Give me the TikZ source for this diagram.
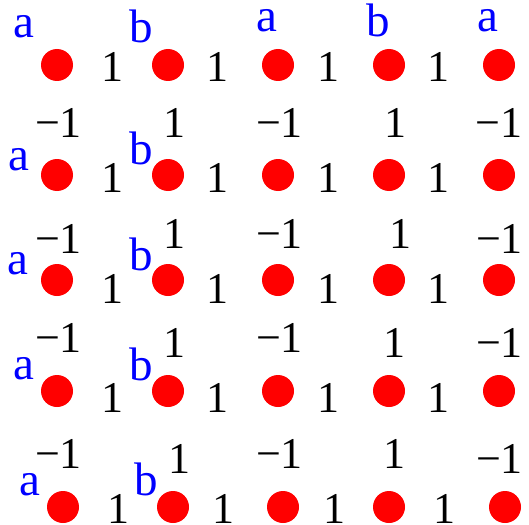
\documentclass[tikz,border=0pt]{standalone}
\usepackage{fontspec}
\setmainfont{Liberation Serif}
\tikzset{
  dotnode/.style={circle, fill=red, draw=none, minimum size=32pt, inner sep=0pt},
  num/.style={font=\fontsize{44}{50}\selectfont, inner sep=0pt, anchor=base, text=black},
  lbl/.style={font=\fontsize{47}{52}\selectfont, inner sep=0pt, anchor=base, text=blue}
}
\begin{document}
\begin{tikzpicture}[x=1pt,y=-1pt]
\useasboundingbox (0,0) rectangle (529,524);
\clip (0,0) rectangle (529,524);
% dots
\node[dotnode] (d11) at (57,65) {};
\node[dotnode] (d12) at (168,65) {};
\node[dotnode] (d13) at (278,65) {};
\node[dotnode] (d14) at (389,65) {};
\node[dotnode] (d15) at (499,65) {};
\node[dotnode] (d21) at (57,175) {};
\node[dotnode] (d22) at (168,175) {};
\node[dotnode] (d23) at (278,175) {};
\node[dotnode] (d24) at (389,175) {};
\node[dotnode] (d25) at (499,175) {};
\node[dotnode] (d31) at (57,280) {};
\node[dotnode] (d32) at (168,280) {};
\node[dotnode] (d33) at (278,280) {};
\node[dotnode] (d34) at (389,280) {};
\node[dotnode] (d35) at (499,280) {};
\node[dotnode] (d41) at (57,391) {};
\node[dotnode] (d42) at (168,391) {};
\node[dotnode] (d43) at (278,391) {};
\node[dotnode] (d44) at (389,391) {};
\node[dotnode] (d45) at (499,391) {};
\node[dotnode] (d51) at (63,507) {};
\node[dotnode] (d52) at (173,507) {};
\node[dotnode] (d53) at (283,507) {};
\node[dotnode] (d54) at (389,507) {};
\node[dotnode] (d55) at (505,507) {};
% horizontal weights
\node[num] (h11) at (112.5,82) {1};
\node[num] (h12) at (217.5,82) {1};
\node[num] (h13) at (328.5,82) {1};
\node[num] (h14) at (438.5,82) {1};
\node[num] (h21) at (112.5,192) {1};
\node[num] (h22) at (217.5,192) {1};
\node[num] (h23) at (328.5,192) {1};
\node[num] (h24) at (438.5,192) {1};
\node[num] (h31) at (112.5,303) {1};
\node[num] (h32) at (217.5,303) {1};
\node[num] (h33) at (328.5,303) {1};
\node[num] (h34) at (438.5,303) {1};
\node[num] (h41) at (112.5,412) {1};
\node[num] (h42) at (217.5,412) {1};
\node[num] (h43) at (328.5,412) {1};
\node[num] (h44) at (438.5,412) {1};
\node[num] (h51) at (118,523.5) {1};
\node[num] (h52) at (223.5,523.5) {1};
\node[num] (h53) at (334,523) {1};
\node[num] (h54) at (444,523) {1};
% vertical weights
\node[num] (v11) at (58.5,137) {−1};
\node[num] (v12) at (174,137) {1};
\node[num] (v13) at (279.5,137) {−1};
\node[num] (v14) at (395.5,137) {1};
\node[num] (v15) at (499,137) {−1};
\node[num] (v21) at (58.5,253) {−1};
\node[num] (v22) at (174,248) {1};
\node[num] (v23) at (279.5,248) {−1};
\node[num] (v24) at (400,248) {1};
\node[num] (v25) at (499.5,253) {−1};
\node[num] (v31) at (58.5,352) {−1};
\node[num] (v32) at (174,357) {1};
\node[num] (v33) at (279.5,352) {−1};
\node[num] (v34) at (394.5,357) {1};
\node[num] (v35) at (499.5,357) {−1};
\node[num] (v41) at (58.5,468) {−1};
\node[num] (v42) at (179,473) {1};
\node[num] (v43) at (279.5,468) {−1};
\node[num] (v44) at (394.5,468) {1};
\node[num] (v45) at (499.5,473) {−1};
% blue labels
\node[lbl] (l11) at (24,38) {a};
\node[lbl] (l12) at (141,43) {b};
\node[lbl] (l13) at (267,32) {a};
\node[lbl] (l14) at (378.5,37) {b};
\node[lbl] (l15) at (487.5,32) {a};
\node[lbl] (l21) at (19,170) {a};
\node[lbl] (l22) at (141,164) {b};
\node[lbl] (l31) at (18,274) {a};
\node[lbl] (l32) at (141,270) {b};
\node[lbl] (l41) at (24,379) {a};
\node[lbl] (l42) at (141,380) {b};
\node[lbl] (l51) at (30,495) {a};
\node[lbl] (l52) at (146,495) {b};
\end{tikzpicture}
\end{document}
